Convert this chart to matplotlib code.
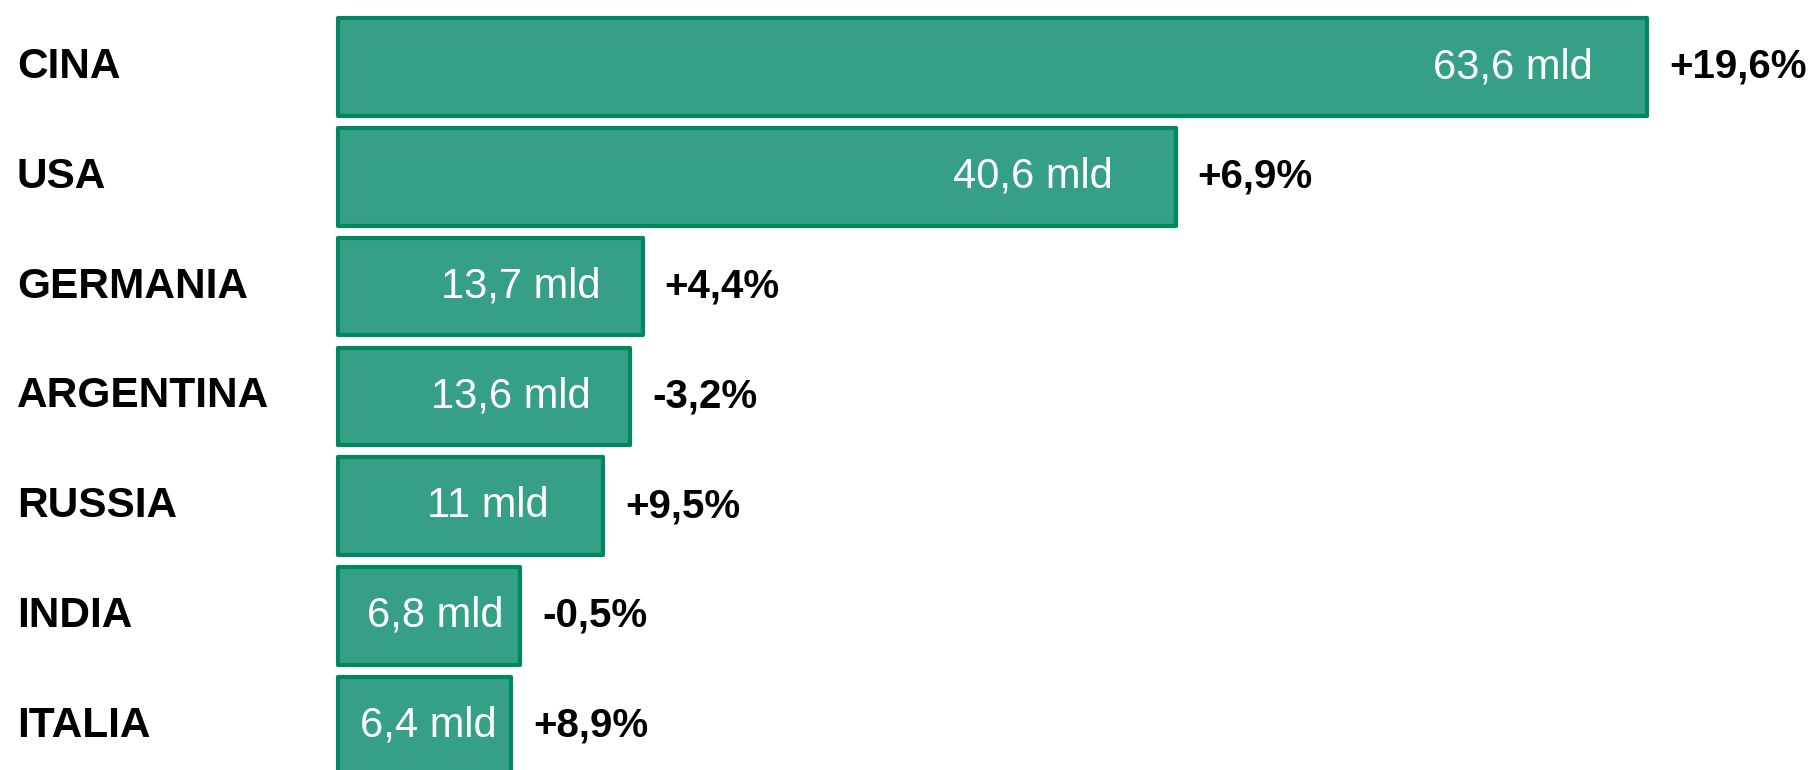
import matplotlib
matplotlib.use("Agg")
import matplotlib.pyplot as plt
from matplotlib.transforms import offset_copy

# ---- data ----
countries = ["CINA", "USA", "GERMANIA", "ARGENTINA", "RUSSIA", "INDIA", "ITALIA"]
values = [63.6, 40.6, 13.7, 13.6, 11, 6.8, 6.4]          # billions (labels)
bar_length = [63.6, 40.7, 14.8, 14.2, 12.9, 8.85, 8.4]  # bar lengths as drawn in the picture
changes = ["+19,6%", "+6,9%", "+4,4%", "-3,2%", "+9,5%", "-0,5%", "+8,9%"]

# ---- style / layout ----
label_gap_px = [54, 63, 42, 40, 55, 17, 14]   # gap between value label and bar end
fill = "#35a085"
edge = "#00875f"
DPI = 100
W, H = 1811, 770
px_per_unit = 20.58
x0_px = 338
y0_px = 67
pitch_px = 109.8

plt.rcParams["font.family"] = ["Liberation Sans", "DejaVu Sans"]
fig = plt.figure(figsize=(W / DPI, H / DPI), dpi=DPI)
ax = fig.add_axes([0, 0, 1, 1])
ax.set_xlim(-x0_px / px_per_unit, (W - x0_px) / px_per_unit)
ax.set_ylim((H - y0_px) / pitch_px, -y0_px / pitch_px)
ax.axis("off")

ypos = list(range(len(countries)))
bars = ax.barh(ypos, bar_length, height=0.89, color=fill, edgecolor=edge,
               linewidth=3.0, joinstyle="round")

pt = 72 / DPI
for i, (c, v, L, ch) in enumerate(zip(countries, values, bar_length, changes)):
    # country label
    ax.text(17 / px_per_unit - x0_px / px_per_unit, i, c, ha="left", va="center",
            fontsize=30.5, fontweight="bold", color="black")
    # value label inside bar
    vs = (f"{v:.1f}".replace(".", ",") if v != int(v) else f"{int(v)}") + " mld"
    tr = offset_copy(ax.transData, fig=fig, x=-label_gap_px[i] * pt, y=0, units="points")
    ax.text(L, i, vs, ha="right", va="center", fontsize=30, color="white",
            transform=tr)
    # change label
    tr2 = offset_copy(ax.transData, fig=fig, x=22 * pt, y=0, units="points")
    ax.text(L, i, ch, ha="left", va="center", fontsize=29, fontweight="bold",
            color="black", transform=tr2)

fig.savefig("out.png", dpi=DPI, facecolor="white")
